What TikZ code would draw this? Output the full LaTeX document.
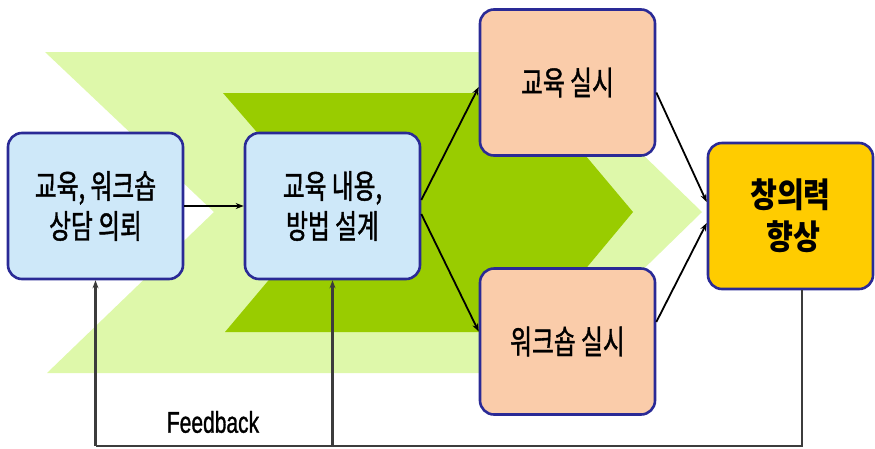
\documentclass[tikz,border=0pt]{standalone}
\usepackage{fontspec}
\usetikzlibrary{arrows.meta,calc}
\newfontfamily\kr[FakeStretch=0.72,FakeBold=1.2]{Noto Sans CJK KR}
\newfontfamily\krb[FakeStretch=0.86]{Noto Sans CJK KR}
\newfontfamily\fbfont[FakeStretch=0.7,FakeBold=1]{Liberation Sans}
\definecolor{lgreen}{RGB}{222,248,170}
\definecolor{dgreen}{RGB}{153,204,0}
\definecolor{bluefill}{RGB}{206,232,249}
\definecolor{peach}{RGB}{250,204,170}
\definecolor{gold}{RGB}{255,204,0}
\definecolor{bord}{RGB}{42,42,150}
\definecolor{fbgray}{RGB}{60,60,60}
\tikzset{
  bbox/.style={draw=bord, line width=2.6pt, rounded corners=14pt, minimum width=175pt,
    minimum height=146pt, align=center, inner sep=0pt,
    font=\kr\fontsize{33}{40}\selectfont},
  bluebox/.style={bbox, fill=bluefill},
  peachbox/.style={bbox, fill=peach},
  goldbox/.style={bbox, fill=gold, minimum width=165pt, font=\krb\bfseries\fontsize{34}{42}\selectfont},
  conn/.style={line width=1.8pt, -{Stealth[length=8pt,width=6pt]}},
  fbline/.style={draw=fbgray, line width=2.4pt},
  fbarrow/.style={fbline, -{Stealth[length=8pt,width=6pt]}}
}
\begin{document}
\begin{tikzpicture}[x=1pt,y=-1pt]
\useasboundingbox (0,0) rectangle (875,448);
% chevrons
\fill[lgreen] (45,52) -- (537,52) -- (702,212) -- (537,373) -- (47,373) -- (214,212) -- cycle;
\fill[dgreen] (223,93) -- (533,93) -- (633,212) -- (533,332) -- (225,332) -- (326,212) -- cycle;
% boxes
\node[bluebox] (b1) at (95.5,206) {교육, 워크숍\\상담 의뢰};
\node[bluebox] (b2) at (332.5,206) {교육 내용,\\방법 설계};
\node[peachbox] (b3) at (567.5,82.5) {교육 실시};
\node[peachbox] (b4) at (567.5,341.5) {워크숍 실시};
\node[goldbox] (b5) at (790.5,216) {창의력\\\,향상};
% connectors
\draw[conn] (b1.east) -- (b2.west);
\draw[conn] ($(b2.east)+(0,-6)$) -- ($(b3.west)+(0,4.5)$);
\draw[conn] ($(b2.east)+(0,8)$) -- ($(b4.west)+(0,-10)$);
\draw[conn] ($(b3.east)+(0,10)$) -- ($(b5.west)+(0,-14)$);
\draw[conn] ($(b4.east)+(0,-19.5)$) -- ($(b5.west)+(0,7)$);
% feedback
\coordinate (fr) at ($(b5.south)+(11.5,0)$);
\coordinate (fbr) at (fr |- 0,446);
\coordinate (fbl) at (b1.south |- 0,446);
\coordinate (fbm) at (b2.south |- 0,446);
\draw[fbline] (fr) -- (fbr) -- (fbl);
\draw[fbarrow] (fbl) -- (b1.south);
\draw[fbarrow] (fbm) -- (b2.south);
\node[font=\fbfont\fontsize{30}{32}\selectfont, inner sep=0pt] (fbt) at (213,422) {Feedback};
\end{tikzpicture}
\end{document}
